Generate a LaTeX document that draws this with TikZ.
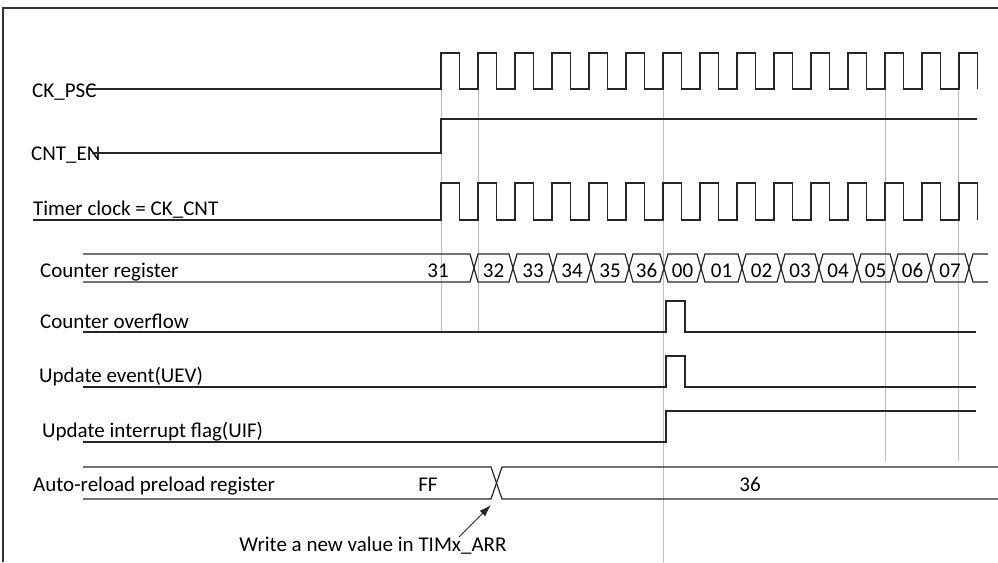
\documentclass[tikz,border=0pt]{standalone}
\usepackage{fontspec}
\setmainfont{Carlito}
\usetikzlibrary{arrows.meta}

\begin{document}
\begin{tikzpicture}[x=1pt,y=-1pt,
  sig/.style={line width=1.2pt,draw=black!85},
  guide/.style={line width=0.9pt,draw=black!25},
  frame/.style={line width=1.3pt,draw=black!80},
  lbl/.style={anchor=base west,inner sep=0pt,font=\fontsize{21}{25}\selectfont},
  val/.style={anchor=base,inner sep=0pt,font=\fontsize{21}{25}\selectfont},
  arrow/.style={-{Latex[length=12pt,width=8pt]},line width=1pt,draw=black!85}
]
\useasboundingbox (0,0) rectangle (998,562);

% Hilfslinien und Rahmen
\draw[guide] (441,89) -- (441,332);
\draw[guide] (478,89) -- (478,332);
\draw[guide] (663,75) -- (663,562);
\draw[guide] (885,67) -- (885,461);
\draw[guide] (958,88) -- (958,461);
\draw[frame] (3,562) -- (3,8) -- (998,8);

% Signalnamen
\node[lbl] (ckpsc) at (32,97) {CK\_PSC};
\node[lbl] (cnten) at (31,160) {CNT\_EN};
\node[lbl] (ckcnt) at (33,215) {Timer clock = CK\_CNT};
\node[lbl] (cntreg) at (40,277) {Counter register};
\node[lbl] (ovf) at (40,328) {Counter overflow};
\node[lbl] (uev) at (39,382) {Update event(UEV)};
\node[lbl] (uif) at (42,437) {Update interrupt flag(UIF)};
\node[lbl] (arr) at (33,491) {Auto-reload preload register};

% Takte
\draw[sig] (88,89) -- (441,89)
  \foreach \k in {0,...,13} { -- ++(0,-36) -- ++(18.5,0) -- ++(0,36) -- ++(18.5,0) }
  -- ++(0,-36) -- ++(18.5,0) -- ++(0,36);
\draw[sig] (92,153) -- (441,153) -- (441,119) -- (977,119);
\draw[sig] (33,220) -- (441,220)
  \foreach \k in {0,...,13} { -- ++(0,-37) -- ++(18.5,0) -- ++(0,37) -- ++(18.5,0) }
  -- ++(0,-37) -- ++(18.5,0) -- ++(0,37);

% Zaehlerregister
\draw[sig] (83,254) -- (470,254) -- (474,268) -- (470,282) -- (83,282);
\node[val] (v31) at (438,277) {31};
\foreach \a/\b/\v in {474/513/32,513/553/33,553/591/34,591/629/35,629/664/36,
    664/701/00,701/742/01,742/781/02,781/819/03,819/857/04,857/894/05,894/931/06,931/969/07} {
  \draw[sig] (\a,268) -- (\a+4,254) -- (\b-4,254) -- (\b,268) -- (\b-4,282) -- (\a+4,282) -- cycle;
  \node[val] (v\v) at ({(\a+\b)/2},277) {\v};
}
\draw[sig] (988,254) -- (973,254) -- (969,268) -- (973,282) -- (988,282);

% Ueberlauf, UEV, UIF
\draw[sig] (83,332) -- (666,332) -- (666,301) -- (685,301) -- (685,332) -- (976,332);
\draw[sig] (83,387) -- (666,387) -- (666,356) -- (685,356) -- (685,387) -- (976,387);
\draw[sig] (83,442) -- (666,442) -- (666,411) -- (976,411);

% Auto-Reload-Register
\draw[sig] (83,467) -- (491,467) -- (502,499) -- (998,499);
\draw[sig] (83,499) -- (491,499) -- (502,467) -- (998,467);
\node[val] (vff) at (428,491) {FF};
\node[val] (v36b) at (750,491) {36};

% Hinweis
\node[val] (note) at (373,551) {Write a new value in TIMx\_ARR};
\coordinate (xtail) at (459,537);
\coordinate (xpt) at (491,505);
\draw[arrow] (xtail) -- (xpt);

\end{tikzpicture}
\end{document}
